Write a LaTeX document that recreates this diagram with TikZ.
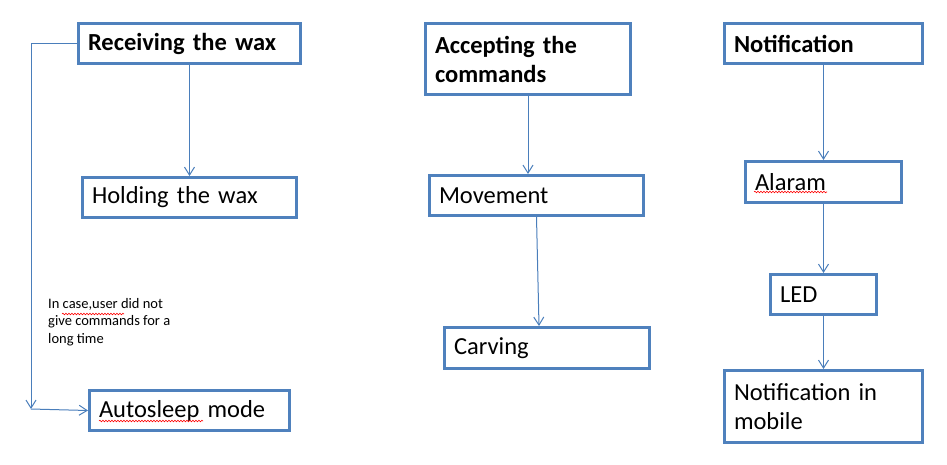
\documentclass[tikz,border=0pt]{standalone}
\usepackage{fontspec}
\setmainfont{Carlito}
\usepackage{tikz}
\usetikzlibrary{positioning, arrows.meta, decorations.pathmorphing}
\definecolor{boxblue}{HTML}{4F81BD}
\definecolor{lineblue}{HTML}{4A7EBB}

\begin{document}
\begin{tikzpicture}[x=1pt,y=-1pt,
  box/.style={draw=boxblue,line width=3pt,anchor=north west,inner xsep=9.5pt,inner ysep=0pt,align=left,font=\fontsize{24.5}{29}\selectfont},
  head/.style={box,font=\fontsize{24.5}{29}\selectfont\bfseries},
  flow/.style={lineblue,line width=1pt,-{Straight Barb[length=8pt,width=10pt]}},
  squig/.style={red,line width=0.6pt,decorate,decoration={snake,segment length=3pt,amplitude=0.8pt}}]
\useasboundingbox (0,0) rectangle (947,464);
% left column
\node[head,text width=203pt,minimum height=40pt] (recv) at (77,22) {Receiving the wax};
\node[box,text width=195pt,minimum height=40pt] (hold) at (81,176) {Holding the wax};
\node[box,text width=181pt,minimum height=40pt] (sleep) at (88,389) {Autosleep mode};
\node[anchor=north west,inner sep=0pt,align=left,font=\fontsize{14.5}{17.5}\selectfont] (note) at (48,298) {In case,user did not\\give commands for a\\long time};
% middle column
\node[head,text width=186pt,minimum height=71pt] (accept) at (424,22) {Accepting the\\commands};
\node[box,text width=195pt,minimum height=40pt] (move) at (428,174) {Movement};
\node[box,text width=186pt,minimum height=41pt] (carve) at (443,326) {Carving};
% right column
\node[head,text width=179pt,minimum height=40pt] (notif) at (723,22) {Notification};
\node[box,text width=137pt,minimum height=41pt] (alarm) at (744,160) {Alaram};
\node[box,text width=87pt,minimum height=40pt] (led) at (769,273) {LED};
\node[box,text width=179pt,minimum height=72pt] (mobile) at (723,369) {Notification in\\mobile};

\coordinate (bend) at (31,409);
\draw[flow] (recv.west) -| (bend);
\draw[flow] (bend) -- (sleep.west);
\draw[flow] (recv.south) -- (hold.north);
\draw[flow] (accept.south) -- (accept.south |- move.north);
\draw[flow] (move.south) -- ([xshift=-8pt]carve.north);
\draw[flow] (notif.south) -- (alarm.north);
\draw[flow] (alarm.south) -- (led.north);
\draw[flow] (led.south) -- (mobile.north);

% spelling marks
\draw[squig] (62,314) -- (124,314);
\draw[squig] (754,192) -- (827,192);
\draw[squig] (99,421) -- (203,421);
\end{tikzpicture}
\end{document}
